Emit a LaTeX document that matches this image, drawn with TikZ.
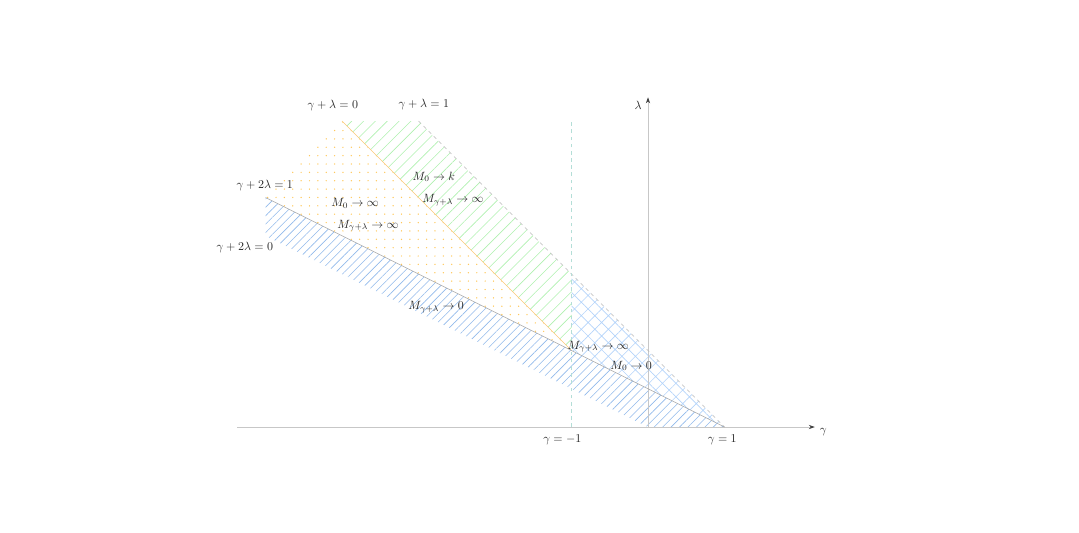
\documentclass[tikz,border=0pt]{standalone}
\usetikzlibrary{patterns.meta,arrows.meta}
\definecolor{hatchblue}{RGB}{145,185,235}
\definecolor{crossblue}{RGB}{180,212,250}
\definecolor{hatchgreen}{RGB}{175,240,175}
\definecolor{dotorange}{RGB}{255,200,90}
\definecolor{lineorange}{RGB}{250,200,120}
\definecolor{dashteal}{RGB}{180,222,215}
\tikzset{
  axisline/.style={draw=black!22, line width=0.6pt},
  lbl/.style={inner sep=1pt, text=black!85},
  bound/.style={draw=black!35, line width=0.5pt},
}
\begin{document}
\begin{tikzpicture}[x=2.25cm,y=2.25cm]
\useasboundingbox (-8.471,-1.373) rectangle (5.634,5.582);
% regions
\fill[pattern={Lines[angle=45,distance=5pt,line width=0.5pt]},pattern color=hatchblue]
  (-5,3) -- (1,0) -- (0,0) -- (-5,2.5) -- cycle;
\fill[pattern={Dots[distance=7pt,radius=0.6pt]},pattern color=dotorange]
  (-4,4) -- (-1,1) -- (-5,3) -- cycle;
\fill[pattern={Lines[angle=45,distance=7pt,line width=0.5pt]},pattern color=hatchgreen]
  (-4,4) -- (-3,4) -- (-1,2) -- (-1,1) -- cycle;
\fill[pattern={Hatch[angle=45,distance=8pt,line width=0.5pt]},pattern color=crossblue]
  (-1,2) -- (1,0) -- (-1,1) -- cycle;
% axes
\coordinate (O) at (0,0);
\coordinate (xs) at (-5.37,0);
\coordinate (xe) at (2.18,0);
\coordinate (ye) at (0,4.31);
\draw[axisline,-{Stealth[length=5pt,width=3.5pt,color=black!75]}] (xs) -- (xe);
\draw[axisline,-{Stealth[length=5pt,width=3.5pt,color=black!75]}] (O) -- (ye);
% boundary lines
\coordinate (A) at (-4,4);
\coordinate (B) at (-1,1);
\coordinate (C) at (-3,4);
\coordinate (D) at (1,0);
\coordinate (E) at (-5,3);
\coordinate (F) at (-1,0);
\coordinate (G) at (-1,4);
\draw[draw=lineorange,line width=0.5pt] (A) -- (B);
\draw[bound,dashed,draw=black!28] (C) -- (D);
\draw[bound] (E) -- (D);
\draw[draw=dashteal,dashed,line width=0.6pt] (F) -- (G);
% labels
\node[lbl] (l1) at (-4.12,4.20) {$\gamma+\lambda=0$};
\node[lbl] (l2) at (-2.93,4.22) {$\gamma+\lambda=1$};
\node[lbl] (l3) at (-5.01,3.16) {$\gamma+2\lambda=1$};
\node[lbl] (l4) at (-5.27,2.35) {$\gamma+2\lambda=0$};
\node[lbl] (m1) at (-2.80,3.27) {$M_0\to k$};
\node[lbl] (m2) at (-2.55,2.96) {$M_{\gamma+\lambda}\to\infty$};
\node[lbl] (m3) at (-3.83,2.92) {$M_0\to\infty$};
\node[lbl] (m4) at (-3.66,2.63) {$M_{\gamma+\lambda}\to\infty$};
\node[lbl] (m5) at (-2.77,1.57) {$M_{\gamma+\lambda}\to0$};
\node[lbl] (m6) at (-0.65,1.05) {$M_{\gamma+\lambda}\to\infty$};
\node[lbl] (m7) at (-0.22,0.80) {$M_0\to0$};
\node[lbl] (t1) at (-1.12,-0.17) {$\gamma=-1$};
\node[lbl] (t2) at (0.97,-0.17) {$\gamma=1$};
\node[lbl] (ax) at (2.29,-0.06) {$\gamma$};
\node[lbl] (ay) at (-0.13,4.20) {$\lambda$};
\end{tikzpicture}
\end{document}
